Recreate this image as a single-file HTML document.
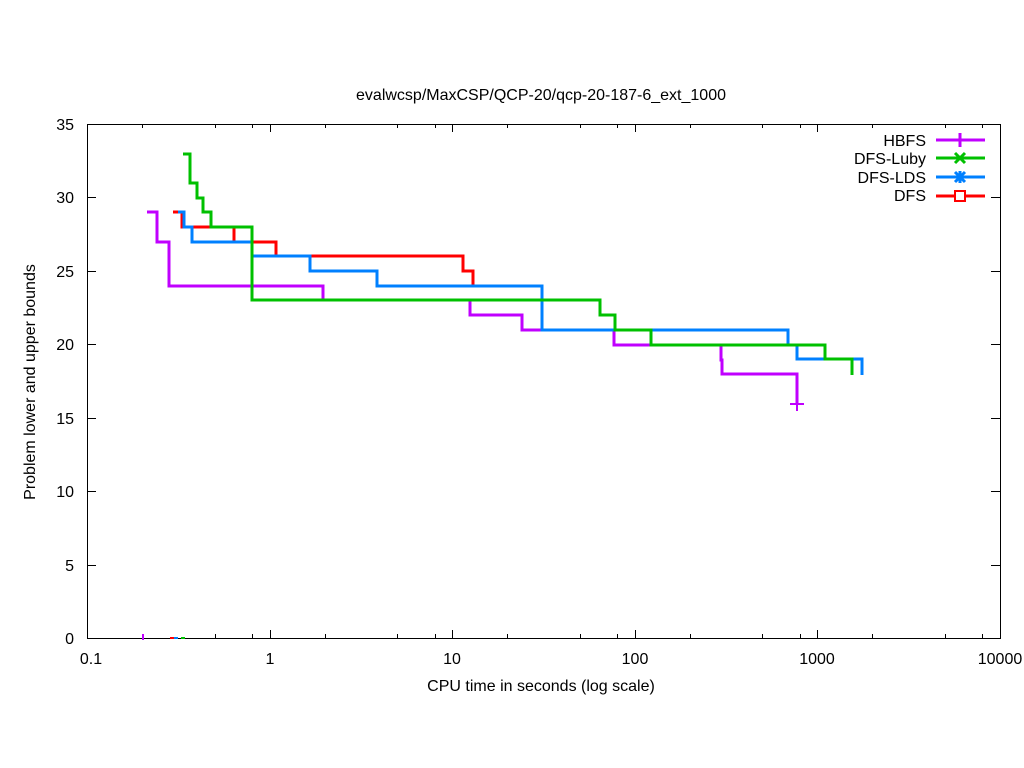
<!DOCTYPE html>
<html><head><meta charset="utf-8"><style>
html,body{margin:0;padding:0;background:#fff}
svg{display:block;font-family:"Liberation Sans",sans-serif}
</style></head><body>
<svg id="s" width="1024" height="768" viewBox="0 0 1024 768" xmlns="http://www.w3.org/2000/svg">
<rect width="1024" height="768" fill="#fff"/>
<g id="ticks" stroke="#000" stroke-width="1"></g>
<rect x="87.5" y="124.5" width="913" height="514" fill="none" stroke="#000" stroke-width="1"/>
<g font-size="16" fill="#000" text-anchor="end">
<text x="74" y="644">0</text><text x="74" y="571">5</text><text x="74" y="497">10</text>
<text x="74" y="424">15</text><text x="74" y="350">20</text><text x="74" y="277">25</text>
<text x="74" y="203">30</text><text x="74" y="130">35</text>
</g>
<g font-size="16" fill="#000" text-anchor="middle">
<text x="91" y="664">0.1</text><text x="270" y="664">1</text><text x="452" y="664">10</text>
<text x="635" y="664">100</text><text x="817" y="664">1000</text><text x="1000" y="664">10000</text>
<text x="541" y="691">CPU time in seconds (log scale)</text>
<text x="541" y="100">evalwcsp/MaxCSP/QCP-20/qcp-20-187-6_ext_1000</text>
<text transform="translate(35,382) rotate(-90)">Problem lower and upper bounds</text>
</g>
<g fill="none" stroke-width="3" stroke-linejoin="miter">
<polyline stroke="#ff0000" points="173,212 182,212 182,227 234,227 234,242 276,242 276,256 463,256 463,271 473,271 473,286"/>
<polyline stroke="#c000ff" points="147,212 157,212 157,242 169,242 169,286 323,286 323,300 470,300 470,315 522,315 522,330 614,330 614,345 721,345 721,360 722,360 722,374 797,374 797,404"/>
<polyline stroke="#0080ff" points="178,212 184,212 184,227 192,227 192,242 252,242 252,256 310,256 310,271 377,271 377,286 542,286 542,330 788,330 788,345 797,345 797,359 862,359 862,375"/>
<polyline stroke="#00c000" points="183,154 190,154 190,183 197,183 197,198 203,198 203,212 211,212 211,227 252,227 252,300 600,300 600,315 615,315 615,330 651,330 651,345 825,345 825,359 852,359 852,375"/>
</g>
<g stroke-width="2" fill="none">
<path d="M790,404H804M797,397V411" stroke="#c000ff"/>
<path d="M143,634V640" stroke="#c000ff"/>
<path d="M170,638H174" stroke="#ff0000"/><path d="M174,638H178" stroke="#0080ff"/><path d="M181,638H185" stroke="#00c000"/>
</g>
<g font-size="16" fill="#000" text-anchor="end">
<text x="926" y="146">HBFS</text><text x="926" y="164">DFS-Luby</text>
<text x="926" y="183">DFS-LDS</text><text x="926" y="201">DFS</text>
</g>
<g stroke-width="3" fill="none">
<path d="M936,140H985M960,133V147" stroke="#c000ff"/>
<path d="M936,158H985M955,153L965,163M955,163L965,153" stroke="#00c000"/>
<path d="M936,177H985M955,172L965,182M955,182L965,172M960,171V183" stroke="#0080ff"/>
<path d="M936,196H985" stroke="#ff0000"/><rect x="955" y="191" width="10" height="10" stroke="#ff0000" fill="#fff" stroke-width="2"/>
</g>
</svg>
<script>
var g=document.getElementById('ticks'),s='';
function L(x1,y1,x2,y2){s+='<line x1="'+x1+'" y1="'+y1+'" x2="'+x2+'" y2="'+y2+'"/>';}
for(var i=0;i<=7;i++){var y=638-i*514/7;y=Math.round(y)+0.5;L(87,y,96,y);L(1000,y,991,y);}
var ks=[1,2,5,8];
for(var d=0;d<5;d++){for(var j=0;j<ks.length;j++){var k=ks[j];var x=87+182.6*(d+Math.log10(k));x=Math.round(x)+0.5;var len=k==1?8:4;L(x,638,x,638-len);L(x,124,x,124+len);}}
L(1000.5,638,1000.5,630);L(1000.5,124,1000.5,132);
g.innerHTML=s;
</script>
</body></html>
